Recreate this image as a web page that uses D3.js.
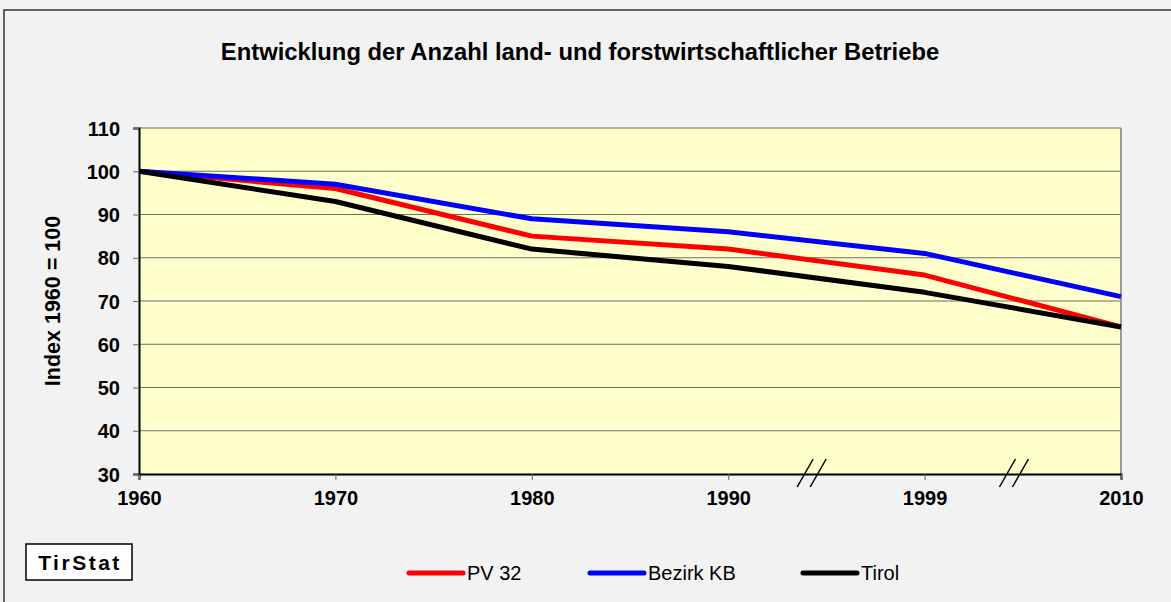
<!DOCTYPE html>
<html>
<head>
<meta charset="utf-8">
<script src="https://cdn.jsdelivr.net/npm/d3@7"></script>
<style>
  body { margin: 0; background: #f2f2f2; }
  svg { display: block; font-family: "Liberation Sans", Arial, sans-serif; }
</style>
</head>
<body>
<div id="chart"></div>
<script>
// data
const years = ["1960", "1970", "1980", "1990", "1999", "2010"];
const pv32 = [100, 96, 85, 82, 76, 64];
const bezirkKB = [100, 97, 89, 86, 81, 71];
const tirol = [100, 93, 82, 78, 72, 64];
const yTicks = [30, 40, 50, 60, 70, 80, 90, 100, 110];
const seriesNames = ["PV 32", "Bezirk KB", "Tirol"];
const seriesColors = ["#ff0000", "#0000ff", "#000000"];

const width = 1171, height = 602;
const margin = { top: 128, right: 50, bottom: 128, left: 139 };

const svg = d3.select("#chart")
    .append("svg")
    .attr("width", width)
    .attr("height", height);

// outer frame
svg.append("rect")
    .attr("x", 0).attr("y", 0)
    .attr("width", width).attr("height", height)
    .attr("fill", "#f2f2f2");
svg.append("rect")
    .attr("x", 4).attr("y", 10)
    .attr("width", width + 10).attr("height", height + 10)
    .attr("fill", "#f2f2f2")
    .attr("stroke", "#333")
    .attr("stroke-width", 1.5);

const x = d3.scalePoint()
    .domain(years)
    .range([margin.left, width - margin.right]);
const y = d3.scaleLinear()
    .domain([30, 110])
    .range([height - margin.bottom, margin.top]);

const x0 = x.range()[0], x1 = x.range()[1];
const yTop = y(110), yBot = y(30);

// plot background
svg.append("rect")
    .attr("x", x0).attr("y", yTop)
    .attr("width", x1 - x0).attr("height", yBot - yTop)
    .attr("fill", "#ffffcc");

// gridlines
svg.append("g")
    .selectAll("line")
    .data(yTicks.filter(d => d > 30))
    .join("line")
    .attr("x1", x0).attr("x2", x1)
    .attr("y1", d => y(d)).attr("y2", d => y(d))
    .attr("stroke", "#6f6f60")
    .attr("stroke-width", 1);

// right border
svg.append("line")
    .attr("x1", x1).attr("x2", x1)
    .attr("y1", yTop).attr("y2", yBot)
    .attr("stroke", "#9a9a9a")
    .attr("stroke-width", 2);

// y axis
const yAxis = svg.append("g")
    .attr("transform", "translate(" + x0 + ",0)")
    .call(d3.axisLeft(y).tickValues(yTicks).tickSize(6).tickPadding(13));
yAxis.select(".domain").attr("stroke", "#000").attr("stroke-width", 2);
yAxis.selectAll(".tick line").attr("stroke", "#666");
yAxis.selectAll(".tick text")
    .attr("fill", "#000")
    .style("font-size", "20px")
    .style("font-weight", "bold")
    .attr("dy", "0.36em");

// x axis
const xAxis = svg.append("g")
    .attr("transform", "translate(0," + yBot + ")")
    .call(d3.axisBottom(x).tickSize(6).tickPadding(11));
xAxis.select(".domain").attr("stroke", "#000").attr("stroke-width", 2);
xAxis.selectAll(".tick line").attr("stroke", "#666");
xAxis.selectAll(".tick text")
    .attr("fill", "#000")
    .style("font-size", "20px")
    .style("font-weight", "bold");

// axis break marks
const step = x.step();
const breaks = [
    { from: "1990", frac: 0.425 },
    { from: "1999", frac: 0.455 },
];
breaks.forEach(b => {
    const cx = x(b.from) + step * b.frac;
    [-6.5, 6.5].forEach(off => {
        svg.append("line")
            .attr("x1", cx + off - 8).attr("y1", yBot + 13)
            .attr("x2", cx + off + 8).attr("y2", yBot - 15)
            .attr("stroke", "#000")
            .attr("stroke-width", 1.5);
    });
});

// series lines
const line = d3.line()
    .x((d, i) => x(years[i]))
    .y(d => y(d));
[pv32, bezirkKB, tirol].forEach((vals, i) => {
    svg.append("path")
        .datum(vals)
        .attr("d", line)
        .attr("fill", "none")
        .attr("stroke", seriesColors[i])
        .attr("stroke-width", 5)
        .attr("stroke-linejoin", "round");
});

// title
svg.append("text")
    .attr("x", 580).attr("y", 60)
    .attr("text-anchor", "middle")
    .style("font-size", "23.8px")
    .style("font-weight", "bold")
    .text("Entwicklung der Anzahl land- und forstwirtschaftlicher Betriebe");

// y label
svg.append("text")
    .attr("transform", "translate(60,301) rotate(-90)")
    .attr("text-anchor", "middle")
    .style("font-size", "21.5px")
    .style("font-weight", "bold")
    .text("Index 1960 = 100");

// legend
const legendX = [409, 590, 803];
const legend = svg.append("g");
seriesNames.forEach((name, i) => {
    legend.append("line")
        .attr("x1", legendX[i]).attr("x2", legendX[i] + 54)
        .attr("y1", 573).attr("y2", 573)
        .attr("stroke", seriesColors[i])
        .attr("stroke-width", 5)
        .attr("stroke-linecap", "round");
    legend.append("text")
        .attr("x", legendX[i] + 58).attr("y", 580)
        .style("font-size", "20px")
        .text(name);
});

// TirStat logo box
svg.append("rect")
    .attr("x", 26).attr("y", 544)
    .attr("width", 106).attr("height", 36)
    .attr("fill", "#fff")
    .attr("stroke", "#000")
    .attr("stroke-width", 1.5);
svg.append("text")
    .attr("x", 80).attr("y", 570)
    .attr("text-anchor", "middle")
    .style("font-size", "21px")
    .style("font-weight", "bold")
    .style("letter-spacing", "2.5px")
    .text("TirStat");
</script>
</body>
</html>
